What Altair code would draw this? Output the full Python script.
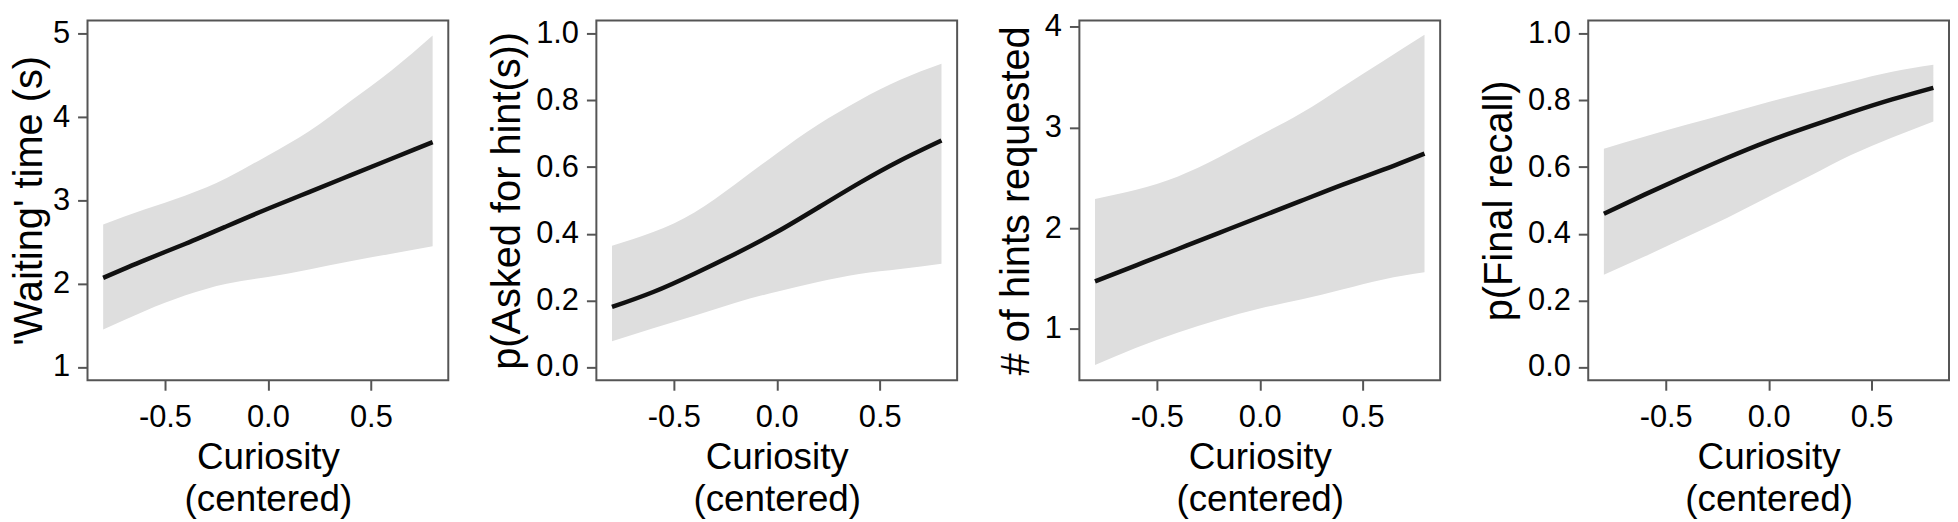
import altair as alt
import pandas as pd

# ---- data ----
curiosity = [-0.8, -0.6, -0.4, -0.2, 0.0, 0.2, 0.4, 0.6, 0.8]

wait_fit = [2.07, 2.28, 2.48, 2.69, 2.90, 3.10, 3.30, 3.50, 3.70]
wait_lo = [1.45, 1.67, 1.86, 2.00, 2.08, 2.17, 2.27, 2.36, 2.45]
wait_hi = [2.71, 2.89, 3.06, 3.27, 3.54, 3.83, 4.19, 4.56, 4.98]

hint_fit = [0.18, 0.225, 0.28, 0.34, 0.405, 0.478, 0.552, 0.62, 0.68]
hint_lo = [0.077, 0.116, 0.154, 0.193, 0.226, 0.255, 0.279, 0.294, 0.31]
hint_hi = [0.364, 0.405, 0.464, 0.549, 0.641, 0.727, 0.80, 0.862, 0.91]

nh_fit = [1.47, 1.63, 1.79, 1.95, 2.11, 2.27, 2.43, 2.58, 2.74]
nh_lo = [0.64, 0.81, 0.96, 1.09, 1.20, 1.29, 1.39, 1.49, 1.56]
nh_hi = [2.29, 2.38, 2.51, 2.70, 2.92, 3.14, 3.40, 3.66, 3.92]

rec_fit = [0.46, 0.518, 0.574, 0.628, 0.678, 0.722, 0.764, 0.803, 0.838]
rec_lo = [0.277, 0.332, 0.39, 0.448, 0.511, 0.573, 0.636, 0.689, 0.737]
rec_hi = [0.655, 0.692, 0.727, 0.761, 0.795, 0.827, 0.857, 0.886, 0.907]

x_ticks = [-0.5, 0.0, 0.5]
x_title = ["Curiosity", "(centered)"]

FONT = "Liberation Sans, Arial, Helvetica, sans-serif"
PANEL_W = 363
PANEL_H = 362


def panel(fit, lo, hi, ytitle, ydomain, yticks, yfmt, tpad):
    df = pd.DataFrame({"c": curiosity, "fit": fit, "lo": lo, "hi": hi})
    xenc = alt.X(
        "c:Q",
        scale=alt.Scale(domain=[-0.876, 0.876], nice=False, zero=False),
        axis=alt.Axis(
            values=x_ticks,
            labelExpr="(datum.value < 0 ? '-' : '') + format(abs(datum.value), '.1f')",
            title=x_title,
            labelPadding=13,
            titlePadding=7,
            titleFontSize=37,
            titleLineHeight=42,
        ),
    )
    band = alt.Chart(df).mark_area(color="#dedede", interpolate="natural").encode(
        x=xenc,
        y=alt.Y(
            "lo:Q",
            scale=alt.Scale(domain=ydomain, nice=False, zero=False),
            axis=alt.Axis(
                values=yticks,
                format=yfmt,
                title=ytitle,
                labelPadding=8,
                titlePadding=tpad,
                titleFontSize=40,
            ),
        ),
        y2="hi:Q",
    )
    line = alt.Chart(df).mark_line(
        color="#111111", strokeWidth=4.5, interpolate="natural"
    ).encode(x="c:Q", y="fit:Q")
    return alt.layer(band, line).properties(width=PANEL_W, height=PANEL_H)


p1 = panel(wait_fit, wait_lo, wait_hi, "'Waiting' time (s)", [0.84, 5.16], [1, 2, 3, 4, 5], "d", 3)
p2 = panel(hint_fit, hint_lo, hint_hi, "p(Asked for hint(s))", [-0.04, 1.04], [0, 0.2, 0.4, 0.6, 0.8, 1.0], ".1f", 8)
p3 = panel(nh_fit, nh_lo, nh_hi, "# of hints requested", [0.488, 4.062], [1, 2, 3, 4], "d", 8)
p4 = panel(rec_fit, rec_lo, rec_hi, "p(Final recall)", [-0.04, 1.04], [0, 0.2, 0.4, 0.6, 0.8, 1.0], ".1f", 8)

chart = (
    alt.hconcat(p1, p2, p3, p4, spacing=37)
    .properties(padding=0)
    .configure_view(stroke="#555555", strokeWidth=2)
    .configure_axis(
        grid=False,
        domain=False,
        tickColor="#555555",
        tickWidth=2,
        tickSize=10,
        labelFont=FONT,
        titleFont=FONT,
        labelFontSize=31,
        labelColor="black",
        titleColor="black",
        titleFontWeight="normal",
    )
)

chart.save("out.html", embed_options={"renderer": "svg", "actions": False})
